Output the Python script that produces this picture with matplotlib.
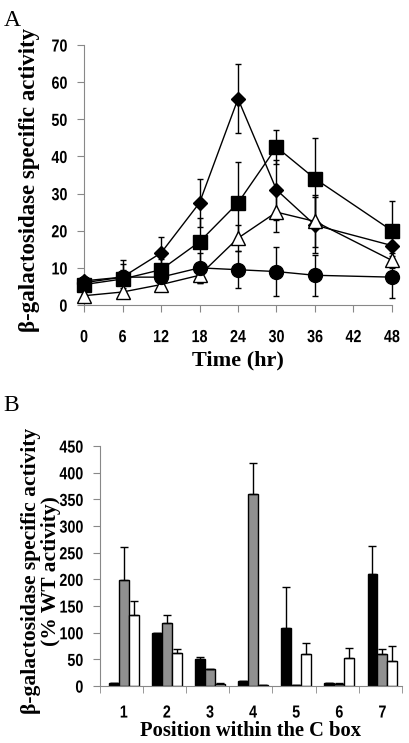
import numpy as np
import matplotlib
matplotlib.use("Agg")
from matplotlib import pyplot as plt
from matplotlib import font_manager
from matplotlib.patheffects import AbstractPathEffect
from matplotlib.transforms import Affine2D

# Panel A data
time_hr = [0, 6, 12, 18, 24, 30, 36, 48]
diamond = [6.5, 7.5, 14, 27.5, 55.5, 31, 21.5, 16]
diamond_err = [1, 4.5, 4.3, 6.5, 9.3, 8, 7.5, 1]
square = [5.5, 7, 9.5, 17, 27.5, 42.5, 34, 20]
square_err = [1, 4, 3, 6.5, 11, 4.5, 11, 8]
triangle = [2.5, 3.5, 5.5, 8, 18, 25, 22.5, 12]
triangle_err = [0.5, 1, 1, 2, 3.5, 5.3, 7, 2]
circle = [6, 7.5, 7.5, 10, 9.5, 9, 8, 7.5]
circle_err = [1, 2, 2, 4, 5, 6.5, 5.5, 5.7]
xticks_a = [0, 6, 12, 18, 24, 30, 36, 42, 48]

# Panel B data
positions = [1, 2, 3, 4, 5, 6, 7]
black_vals = [5, 100, 50, 9, 109, 5, 210]
black_err = [0, 0, 5, 0, 76, 0, 53]
gray_vals = [199, 119, 32, 360, 2, 3, 60]
gray_err = [61, 15, 0, 59, 0, 2, 10]
white_vals = [134, 62, 3, 2, 60, 52, 47]
white_err = [26, 8, 2, 0, 20, 20, 28]


class Tall(AbstractPathEffect):
    # stretch text vertically about its centre -> narrow bold look
    def __init__(self, sy):
        super().__init__()
        self.sy = sy

    def draw_path(self, renderer, gc, tpath, affine, rgbFace=None):
        ext = tpath.get_extents(affine)
        y0 = (ext.y0 + ext.y1) / 2
        t = affine + Affine2D().translate(0, -y0).scale(1, self.sy).translate(0, y0)
        renderer.draw_path(gc, tpath, t, rgbFace)


tick_font = font_manager.FontProperties(family=['Liberation Sans', 'DejaVu Sans'],
                                        weight='bold', size=10.3)
SY = 1.22
serif = ['Liberation Serif', 'DejaVu Serif']
axis_col = '#888888'


def style_ticks(a):
    for lab in a.get_xticklabels() + a.get_yticklabels():
        lab.set_fontproperties(tick_font)
        lab.set_path_effects([Tall(SY)])


fig = plt.figure(figsize=(4.10, 7.43), dpi=100)

# ---- Panel A
ax = fig.add_axes([0.205, 0.5895, 0.751, 0.35])
series = [(diamond, diamond_err, 'D', 'black', 7.3),
          (square, square_err, 's', 'black', 10),
          (triangle, triangle_err, '^', 'white', 10.5),
          (circle, circle_err, 'o', 'black', 10)]
for vals, err, mk, fc, ms in series:
    ax.errorbar(time_hr, vals, yerr=err, color='black', lw=1, elinewidth=1,
                capsize=2.3, marker=mk, markersize=ms, markerfacecolor=fc,
                markeredgecolor='black', clip_on=False, zorder=3)
ax.set_xlim(0, 48)
ax.set_ylim(0, 70)
ax.set_xticks(xticks_a)
ax.set_yticks(range(0, 71, 10))
for s in ['top', 'right']:
    ax.spines[s].set_visible(False)
for s in ['left', 'bottom']:
    ax.spines[s].set_color(axis_col)
ax.tick_params(colors=axis_col, length=5, width=0.8, labelcolor='black')
ax.tick_params(axis='x', pad=13)
ax.tick_params(axis='y', pad=7)
style_ticks(ax)
ax.set_xlabel('Time (hr)', family=serif, weight='bold', fontsize=16, labelpad=5)
ax.set_ylabel('β-galactosidase specific activity', family=serif, weight='bold',
              fontsize=16.5)
ax.yaxis.set_label_coords(-0.143, 0.48)
fig.text(0.008, 0.965, 'A', family=serif, fontsize=17)

# ---- Panel B
bx = fig.add_axes([0.244, 0.0767, 0.736, 0.323])
w = 0.23
x = np.array(positions)
kw = dict(edgecolor='black', linewidth=1, error_kw=dict(elinewidth=1, capsize=3, capthick=1))
bx.bar(x - w, black_vals, w, color='black', yerr=[np.zeros(7), black_err], **kw)
bx.bar(x, gray_vals, w, color='#909090', yerr=[np.zeros(7), gray_err], **kw)
bx.bar(x + w, white_vals, w, color='white', yerr=[np.zeros(7), white_err], **kw)
bx.set_xlim(0.45, 7.45)
bx.set_ylim(0, 450)
bx.set_yticks(range(0, 451, 50))
bx.set_xticks(positions)
bx.set_xticks(np.arange(0.45, 7.5, 1.0), minor=True)
for s in ['top', 'right']:
    bx.spines[s].set_visible(False)
for s in ['left', 'bottom']:
    bx.spines[s].set_color(axis_col)
bx.tick_params(colors=axis_col, length=5, width=0.8, labelcolor='black')
bx.tick_params(axis='y', pad=7)
bx.tick_params(axis='x', which='major', length=0, pad=14)
bx.tick_params(axis='x', which='minor', length=5, color=axis_col)
style_ticks(bx)
bx.set_xlabel('Position within the C box', family=serif, weight='bold', fontsize=14.8, labelpad=1)
bx.set_ylabel('β-galactosidase specific activity\n(% WT activity)', family=serif,
              weight='bold', fontsize=15.5, linespacing=1.0)
bx.yaxis.set_label_coords(-0.13, 0.48)
fig.text(0.008, 0.447, 'B', family=serif, fontsize=17)

fig.savefig('out.png', dpi=100)
